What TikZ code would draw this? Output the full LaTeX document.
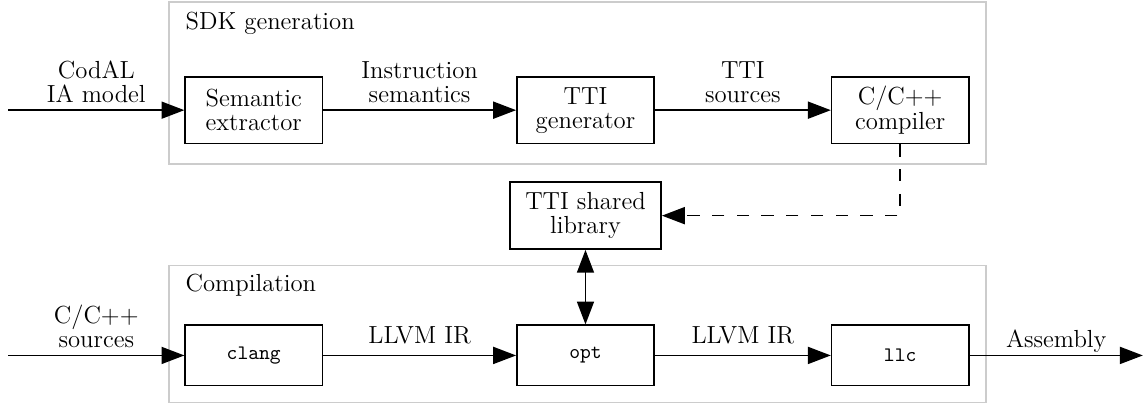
\documentclass[tikz,border=0pt]{standalone}
\usepackage{amsmath}
\usetikzlibrary{arrows.meta}
\newcommand{\tool}[1]{{\fontsize{10}{12}\selectfont\texttt{#1}}}

\begin{document}
\begin{tikzpicture}[
  font=\fontsize{12}{11.7}\selectfont,
  blk/.style={draw, thick, align=center, minimum width=2.34cm, minimum height=1.14cm},
  lowblk/.style={blk, minimum height=1.03cm},
  grp/.style={draw=gray!40, thick},
  flow/.style={thick, -{Triangle[length=3.9mm, width=2.9mm]}},
  lbl/.style={midway, above, align=center}
]
\useasboundingbox (0,0) rectangle (19.52,6.91);
% groups
\draw[grp] (2.88,4.11) rectangle (16.82,6.88);
\draw[grp] (2.88,0.04) rectangle (16.82,2.38);
\node[anchor=base west, inner sep=0] (sdkttl) at (3.16,6.41) {SDK generation};
\node[anchor=base west, inner sep=0] (cmpttl) at (3.16,1.93) {Compilation};
% SDK generation
\coordinate (codal) at (0.14,5.03);
\node[blk] (sem) at (4.33,5.03) {Semantic\\extractor};
\node[blk] (gen) at (9.99,5.03) {TTI\\generator};
\node[blk] (cc) at (15.36,5.03) {C/C++\\compiler};
\node[blk, minimum width=2.58cm] (lib) at (9.99,3.23) {TTI shared\\library};
% compilation
\coordinate (src) at (0.14,0.845);
\coordinate (asm) at (19.5,0.845);
\node[lowblk] (clang) at (4.33,0.845) {\tool{clang}};
\node[lowblk] (opt) at (9.99,0.845) {\tool{opt}};
\node[lowblk] (llc) at (15.36,0.845) {\tool{llc}};
% arrows
\draw[flow] (codal) -- (sem) node[lbl] {CodAL\\IA model};
\draw[flow] (sem) -- (gen) node[lbl] {Instruction\\semantics};
\draw[flow] (gen) -- (cc) node[lbl] {TTI\\sources};
\draw[flow, dash pattern=on 6pt off 6pt] (cc.south) |- (lib.east);
\draw[flow, {Triangle[length=3.9mm, width=2.9mm]}-{Triangle[length=3.9mm, width=2.9mm]}] (lib) -- (opt);
\draw[flow] (src) -- (clang) node[lbl] {C/C++\\sources};
\draw[flow] (clang) -- (opt) node[lbl, yshift=2pt] {LLVM IR};
\draw[flow] (opt) -- (llc) node[lbl, yshift=2pt] {LLVM IR};
\draw[flow] (llc) -- (asm) node[lbl, yshift=-2.2pt] {Assembly};
\end{tikzpicture}
\end{document}
